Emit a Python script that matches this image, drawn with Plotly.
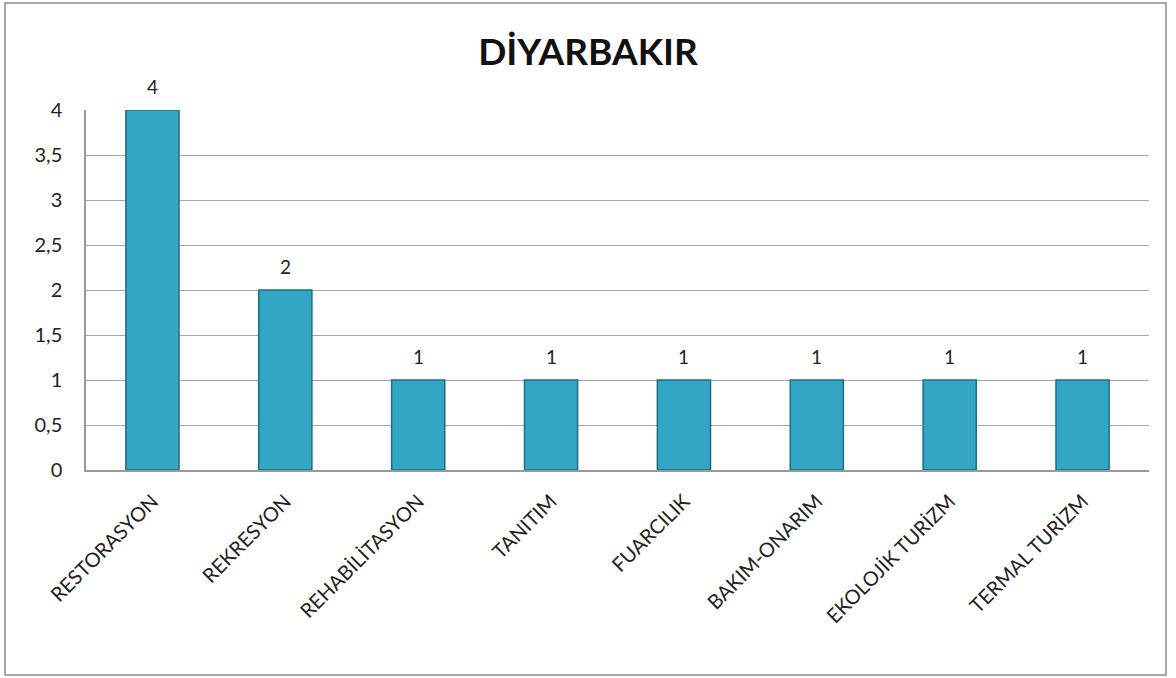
import plotly.graph_objects as go

categories = ["RESTORASYON", "REKRESYON", "REHABİLİTASYON", "TANITIM", "FUARCILIK",
              "BAKIM-ONARIM", "EKOLOJİK TURİZM", "TERMAL TURİZM"]
values = [4, 2, 1, 1, 1, 1, 1, 1]
y_ticks = [0, 0.5, 1, 1.5, 2, 2.5, 3, 3.5, 4]

W, H = 1176, 678
ml, mr, mt, mb = 86, 27, 110, 208
pw, ph = W - ml - mr, H - mt - mb
FONT = "Lato"

fig = go.Figure()
fig.add_trace(go.Bar(
    x=categories, y=values,
    marker=dict(color="#33A6C6", line=dict(color="#1D6E85", width=1.5)),
    cliponaxis=False,
))

for c, v in zip(categories, values):
    fig.add_annotation(x=c, y=v, text=str(v), showarrow=False, yanchor="bottom",
                       yshift=10, font=dict(family=FONT, size=19, color="#222"))

def px_x(p):
    return (p - ml) / pw

def px_y(p):
    return (H - mb - p) / ph

fig.add_shape(type="rect", xref="paper", yref="paper",
              x0=px_x(5), x1=px_x(1166), y0=px_y(675), y1=px_y(3),
              line=dict(color="#8c8c8c", width=1.5), layer="below")

fig.update_layout(
    width=W, height=H,
    margin=dict(l=ml, r=mr, t=mt, b=mb),
    paper_bgcolor="white", plot_bgcolor="white",
    separators=",.",
    bargap=0.6,
    showlegend=False,
    title=dict(text="<b>DİYARBAKIR</b>", x=0.5, xref="container", y=1 - 52 / H, yanchor="middle",
               font=dict(family=FONT, size=37, color="#111")),
    font=dict(family=FONT, size=19, color="#222"),
    xaxis=dict(tickangle=-45, showline=True, linecolor="#999", linewidth=1.5,
               ticks="", tickfont=dict(family=FONT, size=20, color="#222"), showgrid=False,
               ticklabelstandoff=10),
    yaxis=dict(range=[0, 4], tickvals=y_ticks, showline=True, linecolor="#999", linewidth=1.5,
               gridcolor="#a6a6a6", gridwidth=1, ticks="", zeroline=False,
               tickfont=dict(family=FONT, size=20, color="#222"), ticklabelstandoff=18),
)

fig.write_html("out.html", config={"displayModeBar": False},
               post_script="document.body.style.margin='0';")
